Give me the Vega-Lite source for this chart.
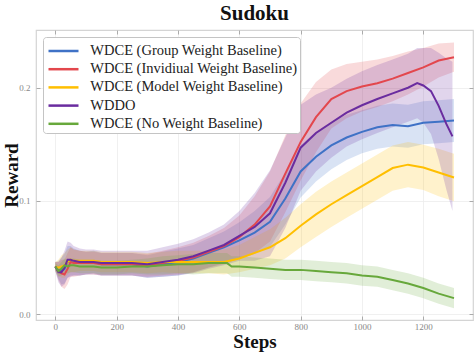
{
  "$schema": "https://vega.github.io/schema/vega-lite/v6.json",
  "width": 437,
  "height": 290,
  "autosize": {"type": "none"},
  "padding": {"left": 36, "top": 30, "right": 3, "bottom": 33},
  "background": "white",
  "title": {"text": "Sudoku", "font": "Liberation Serif", "fontSize": 21, "fontWeight": "bold", "color": "#111111", "anchor": "middle", "baseline": "alphabetic", "offset": -11.5},
  "config": {
    "view": {"stroke": "#d4d4d4", "strokeWidth": 1.2},
    "axis": {"labelFont": "Liberation Serif", "labelFontSize": 9, "labelColor": "#888888", "tickColor": "#999999", "tickSize": -4, "tickWidth": 0.8, "domain": false, "gridColor": "#ececec", "gridWidth": 0.8, "titleFont": "Liberation Serif", "titleFontSize": 19, "titleFontWeight": "bold", "titleColor": "#111111"},
    "legend": {"orient": "top-left", "offset": 7, "symbolType": "M-0.85,0H2.15", "symbolSize": 400, "symbolStrokeWidth": 2.5,
               "labelFont": "Liberation Serif", "labelFontSize": 14.5, "labelColor": "#222222", "labelOffset": 21.8, "labelLimit": 320,
               "rowPadding": 0.2, "padding": 2.5, "fillColor": "white", "strokeColor": "#c4c4c4", "cornerRadius": 3}
  },
  "data": {"values": [
    {"s":"WDCE (Group Weight Baseline)","x":0,"y":0.042,"lo":0.038,"hi":0.046},
    {"s":"WDCE (Group Weight Baseline)","x":10,"y":0.039,"lo":0.031,"hi":0.047},
    {"s":"WDCE (Group Weight Baseline)","x":20,"y":0.038,"lo":0.026,"hi":0.050},
    {"s":"WDCE (Group Weight Baseline)","x":30,"y":0.040,"lo":0.027,"hi":0.053},
    {"s":"WDCE (Group Weight Baseline)","x":40,"y":0.046,"lo":0.032,"hi":0.060},
    {"s":"WDCE (Group Weight Baseline)","x":50,"y":0.047,"lo":0.034,"hi":0.060},
    {"s":"WDCE (Group Weight Baseline)","x":60,"y":0.046,"lo":0.034,"hi":0.058},
    {"s":"WDCE (Group Weight Baseline)","x":80,"y":0.045,"lo":0.034,"hi":0.056},
    {"s":"WDCE (Group Weight Baseline)","x":100,"y":0.045,"lo":0.035,"hi":0.055},
    {"s":"WDCE (Group Weight Baseline)","x":125,"y":0.046,"lo":0.036,"hi":0.056},
    {"s":"WDCE (Group Weight Baseline)","x":150,"y":0.044,"lo":0.034,"hi":0.054},
    {"s":"WDCE (Group Weight Baseline)","x":175,"y":0.044,"lo":0.034,"hi":0.054},
    {"s":"WDCE (Group Weight Baseline)","x":200,"y":0.044,"lo":0.034,"hi":0.054},
    {"s":"WDCE (Group Weight Baseline)","x":250,"y":0.044,"lo":0.034,"hi":0.054},
    {"s":"WDCE (Group Weight Baseline)","x":300,"y":0.042,"lo":0.032,"hi":0.052},
    {"s":"WDCE (Group Weight Baseline)","x":350,"y":0.044,"lo":0.033,"hi":0.055},
    {"s":"WDCE (Group Weight Baseline)","x":400,"y":0.046,"lo":0.034,"hi":0.058},
    {"s":"WDCE (Group Weight Baseline)","x":450,"y":0.049,"lo":0.037,"hi":0.061},
    {"s":"WDCE (Group Weight Baseline)","x":500,"y":0.054,"lo":0.041,"hi":0.067},
    {"s":"WDCE (Group Weight Baseline)","x":550,"y":0.059,"lo":0.045,"hi":0.073},
    {"s":"WDCE (Group Weight Baseline)","x":600,"y":0.065,"lo":0.049,"hi":0.081},
    {"s":"WDCE (Group Weight Baseline)","x":650,"y":0.072,"lo":0.053,"hi":0.091},
    {"s":"WDCE (Group Weight Baseline)","x":700,"y":0.0815,"lo":0.0595,"hi":0.1035},
    {"s":"WDCE (Group Weight Baseline)","x":750,"y":0.102,"lo":0.079,"hi":0.125},
    {"s":"WDCE (Group Weight Baseline)","x":800,"y":0.126,"lo":0.103,"hi":0.149},
    {"s":"WDCE (Group Weight Baseline)","x":850,"y":0.139,"lo":0.117,"hi":0.161},
    {"s":"WDCE (Group Weight Baseline)","x":900,"y":0.149,"lo":0.128,"hi":0.170},
    {"s":"WDCE (Group Weight Baseline)","x":950,"y":0.156,"lo":0.136,"hi":0.176},
    {"s":"WDCE (Group Weight Baseline)","x":1000,"y":0.161,"lo":0.142,"hi":0.180},
    {"s":"WDCE (Group Weight Baseline)","x":1050,"y":0.165,"lo":0.146,"hi":0.184},
    {"s":"WDCE (Group Weight Baseline)","x":1100,"y":0.167,"lo":0.148,"hi":0.186},
    {"s":"WDCE (Group Weight Baseline)","x":1150,"y":0.166,"lo":0.147,"hi":0.185},
    {"s":"WDCE (Group Weight Baseline)","x":1200,"y":0.169,"lo":0.150,"hi":0.188},
    {"s":"WDCE (Group Weight Baseline)","x":1250,"y":0.170,"lo":0.151,"hi":0.189},
    {"s":"WDCE (Group Weight Baseline)","x":1300,"y":0.171,"lo":0.152,"hi":0.190},

    {"s":"WDCE (Invidiual Weight Baseline)","x":0,"y":0.042,"lo":0.038,"hi":0.046},
    {"s":"WDCE (Invidiual Weight Baseline)","x":10,"y":0.038,"lo":0.030,"hi":0.046},
    {"s":"WDCE (Invidiual Weight Baseline)","x":20,"y":0.036,"lo":0.024,"hi":0.048},
    {"s":"WDCE (Invidiual Weight Baseline)","x":30,"y":0.035,"lo":0.022,"hi":0.048},
    {"s":"WDCE (Invidiual Weight Baseline)","x":40,"y":0.040,"lo":0.026,"hi":0.054},
    {"s":"WDCE (Invidiual Weight Baseline)","x":50,"y":0.046,"lo":0.033,"hi":0.059},
    {"s":"WDCE (Invidiual Weight Baseline)","x":60,"y":0.045,"lo":0.033,"hi":0.057},
    {"s":"WDCE (Invidiual Weight Baseline)","x":80,"y":0.045,"lo":0.034,"hi":0.056},
    {"s":"WDCE (Invidiual Weight Baseline)","x":100,"y":0.045,"lo":0.035,"hi":0.055},
    {"s":"WDCE (Invidiual Weight Baseline)","x":125,"y":0.045,"lo":0.035,"hi":0.055},
    {"s":"WDCE (Invidiual Weight Baseline)","x":150,"y":0.044,"lo":0.034,"hi":0.054},
    {"s":"WDCE (Invidiual Weight Baseline)","x":175,"y":0.044,"lo":0.034,"hi":0.054},
    {"s":"WDCE (Invidiual Weight Baseline)","x":200,"y":0.044,"lo":0.034,"hi":0.054},
    {"s":"WDCE (Invidiual Weight Baseline)","x":250,"y":0.044,"lo":0.034,"hi":0.054},
    {"s":"WDCE (Invidiual Weight Baseline)","x":300,"y":0.043,"lo":0.033,"hi":0.053},
    {"s":"WDCE (Invidiual Weight Baseline)","x":350,"y":0.045,"lo":0.034,"hi":0.056},
    {"s":"WDCE (Invidiual Weight Baseline)","x":400,"y":0.047,"lo":0.035,"hi":0.059},
    {"s":"WDCE (Invidiual Weight Baseline)","x":450,"y":0.050,"lo":0.037,"hi":0.063},
    {"s":"WDCE (Invidiual Weight Baseline)","x":500,"y":0.055,"lo":0.041,"hi":0.069},
    {"s":"WDCE (Invidiual Weight Baseline)","x":550,"y":0.060,"lo":0.044,"hi":0.076},
    {"s":"WDCE (Invidiual Weight Baseline)","x":600,"y":0.068,"lo":0.049,"hi":0.087},
    {"s":"WDCE (Invidiual Weight Baseline)","x":650,"y":0.079,"lo":0.054,"hi":0.104},
    {"s":"WDCE (Invidiual Weight Baseline)","x":700,"y":0.095,"lo":0.064,"hi":0.126},
    {"s":"WDCE (Invidiual Weight Baseline)","x":750,"y":0.124,"lo":0.090,"hi":0.158},
    {"s":"WDCE (Invidiual Weight Baseline)","x":800,"y":0.152,"lo":0.118,"hi":0.186},
    {"s":"WDCE (Invidiual Weight Baseline)","x":850,"y":0.174,"lo":0.143,"hi":0.205},
    {"s":"WDCE (Invidiual Weight Baseline)","x":900,"y":0.190,"lo":0.164,"hi":0.216},
    {"s":"WDCE (Invidiual Weight Baseline)","x":950,"y":0.197,"lo":0.173,"hi":0.221},
    {"s":"WDCE (Invidiual Weight Baseline)","x":1000,"y":0.201,"lo":0.179,"hi":0.223},
    {"s":"WDCE (Invidiual Weight Baseline)","x":1050,"y":0.204,"lo":0.183,"hi":0.225},
    {"s":"WDCE (Invidiual Weight Baseline)","x":1100,"y":0.208,"lo":0.188,"hi":0.228},
    {"s":"WDCE (Invidiual Weight Baseline)","x":1150,"y":0.213,"lo":0.194,"hi":0.232},
    {"s":"WDCE (Invidiual Weight Baseline)","x":1200,"y":0.218,"lo":0.201,"hi":0.235},
    {"s":"WDCE (Invidiual Weight Baseline)","x":1250,"y":0.224,"lo":0.209,"hi":0.239},
    {"s":"WDCE (Invidiual Weight Baseline)","x":1300,"y":0.227,"lo":0.214,"hi":0.240},

    {"s":"WDCE (Model Weight Baseline)","x":0,"y":0.042,"lo":0.038,"hi":0.046},
    {"s":"WDCE (Model Weight Baseline)","x":10,"y":0.041,"lo":0.034,"hi":0.048},
    {"s":"WDCE (Model Weight Baseline)","x":20,"y":0.042,"lo":0.032,"hi":0.052},
    {"s":"WDCE (Model Weight Baseline)","x":30,"y":0.043,"lo":0.032,"hi":0.054},
    {"s":"WDCE (Model Weight Baseline)","x":40,"y":0.046,"lo":0.035,"hi":0.057},
    {"s":"WDCE (Model Weight Baseline)","x":50,"y":0.048,"lo":0.037,"hi":0.059},
    {"s":"WDCE (Model Weight Baseline)","x":60,"y":0.047,"lo":0.037,"hi":0.057},
    {"s":"WDCE (Model Weight Baseline)","x":80,"y":0.047,"lo":0.038,"hi":0.056},
    {"s":"WDCE (Model Weight Baseline)","x":100,"y":0.047,"lo":0.038,"hi":0.056},
    {"s":"WDCE (Model Weight Baseline)","x":125,"y":0.047,"lo":0.038,"hi":0.056},
    {"s":"WDCE (Model Weight Baseline)","x":150,"y":0.046,"lo":0.037,"hi":0.055},
    {"s":"WDCE (Model Weight Baseline)","x":175,"y":0.046,"lo":0.037,"hi":0.055},
    {"s":"WDCE (Model Weight Baseline)","x":200,"y":0.046,"lo":0.037,"hi":0.055},
    {"s":"WDCE (Model Weight Baseline)","x":250,"y":0.046,"lo":0.037,"hi":0.055},
    {"s":"WDCE (Model Weight Baseline)","x":300,"y":0.045,"lo":0.036,"hi":0.054},
    {"s":"WDCE (Model Weight Baseline)","x":350,"y":0.046,"lo":0.037,"hi":0.055},
    {"s":"WDCE (Model Weight Baseline)","x":400,"y":0.046,"lo":0.036,"hi":0.056},
    {"s":"WDCE (Model Weight Baseline)","x":450,"y":0.046,"lo":0.036,"hi":0.056},
    {"s":"WDCE (Model Weight Baseline)","x":500,"y":0.046,"lo":0.036,"hi":0.056},
    {"s":"WDCE (Model Weight Baseline)","x":550,"y":0.046,"lo":0.035,"hi":0.057},
    {"s":"WDCE (Model Weight Baseline)","x":600,"y":0.049,"lo":0.037,"hi":0.061},
    {"s":"WDCE (Model Weight Baseline)","x":650,"y":0.054,"lo":0.040,"hi":0.068},
    {"s":"WDCE (Model Weight Baseline)","x":700,"y":0.059,"lo":0.043,"hi":0.075},
    {"s":"WDCE (Model Weight Baseline)","x":750,"y":0.067,"lo":0.049,"hi":0.085},
    {"s":"WDCE (Model Weight Baseline)","x":800,"y":0.078,"lo":0.059,"hi":0.097},
    {"s":"WDCE (Model Weight Baseline)","x":850,"y":0.088,"lo":0.068,"hi":0.108},
    {"s":"WDCE (Model Weight Baseline)","x":900,"y":0.097,"lo":0.077,"hi":0.117},
    {"s":"WDCE (Model Weight Baseline)","x":950,"y":0.105,"lo":0.085,"hi":0.125},
    {"s":"WDCE (Model Weight Baseline)","x":1000,"y":0.113,"lo":0.093,"hi":0.133},
    {"s":"WDCE (Model Weight Baseline)","x":1050,"y":0.121,"lo":0.101,"hi":0.141},
    {"s":"WDCE (Model Weight Baseline)","x":1100,"y":0.129,"lo":0.109,"hi":0.149},
    {"s":"WDCE (Model Weight Baseline)","x":1150,"y":0.132,"lo":0.112,"hi":0.152},
    {"s":"WDCE (Model Weight Baseline)","x":1200,"y":0.1295,"lo":0.1095,"hi":0.1495},
    {"s":"WDCE (Model Weight Baseline)","x":1250,"y":0.125,"lo":0.104,"hi":0.146},
    {"s":"WDCE (Model Weight Baseline)","x":1300,"y":0.1206,"lo":0.0996,"hi":0.1416},

    {"s":"WDDO","x":0,"y":0.042,"lo":0.038,"hi":0.046},
    {"s":"WDDO","x":10,"y":0.037,"lo":0.028,"hi":0.046},
    {"s":"WDDO","x":20,"y":0.037,"lo":0.024,"hi":0.050},
    {"s":"WDDO","x":30,"y":0.041,"lo":0.026,"hi":0.056},
    {"s":"WDDO","x":40,"y":0.048,"lo":0.032,"hi":0.064},
    {"s":"WDDO","x":50,"y":0.048,"lo":0.033,"hi":0.063},
    {"s":"WDDO","x":60,"y":0.047,"lo":0.034,"hi":0.060},
    {"s":"WDDO","x":80,"y":0.046,"lo":0.034,"hi":0.058},
    {"s":"WDDO","x":100,"y":0.046,"lo":0.035,"hi":0.057},
    {"s":"WDDO","x":125,"y":0.046,"lo":0.035,"hi":0.057},
    {"s":"WDDO","x":150,"y":0.045,"lo":0.034,"hi":0.056},
    {"s":"WDDO","x":175,"y":0.045,"lo":0.034,"hi":0.056},
    {"s":"WDDO","x":200,"y":0.045,"lo":0.034,"hi":0.056},
    {"s":"WDDO","x":250,"y":0.045,"lo":0.034,"hi":0.056},
    {"s":"WDDO","x":300,"y":0.044,"lo":0.032,"hi":0.056},
    {"s":"WDDO","x":350,"y":0.046,"lo":0.033,"hi":0.059},
    {"s":"WDDO","x":400,"y":0.048,"lo":0.034,"hi":0.062},
    {"s":"WDDO","x":450,"y":0.051,"lo":0.036,"hi":0.066},
    {"s":"WDDO","x":500,"y":0.056,"lo":0.040,"hi":0.072},
    {"s":"WDDO","x":550,"y":0.061,"lo":0.043,"hi":0.079},
    {"s":"WDDO","x":600,"y":0.069,"lo":0.047,"hi":0.091},
    {"s":"WDDO","x":650,"y":0.077,"lo":0.047,"hi":0.107},
    {"s":"WDDO","x":700,"y":0.089,"lo":0.051,"hi":0.127},
    {"s":"WDDO","x":750,"y":0.116,"lo":0.076,"hi":0.156},
    {"s":"WDDO","x":800,"y":0.147,"lo":0.109,"hi":0.185},
    {"s":"WDDO","x":850,"y":0.160,"lo":0.126,"hi":0.194},
    {"s":"WDDO","x":900,"y":0.169,"lo":0.138,"hi":0.200},
    {"s":"WDDO","x":950,"y":0.178,"lo":0.148,"hi":0.208},
    {"s":"WDDO","x":1000,"y":0.1845,"lo":0.1545,"hi":0.2145},
    {"s":"WDDO","x":1050,"y":0.190,"lo":0.160,"hi":0.220},
    {"s":"WDDO","x":1100,"y":0.195,"lo":0.165,"hi":0.225},
    {"s":"WDDO","x":1150,"y":0.200,"lo":0.170,"hi":0.230},
    {"s":"WDDO","x":1180,"y":0.204,"lo":0.173,"hi":0.235},
    {"s":"WDDO","x":1200,"y":0.202,"lo":0.169,"hi":0.235},
    {"s":"WDDO","x":1225,"y":0.197,"lo":0.159,"hi":0.235},
    {"s":"WDDO","x":1250,"y":0.184,"lo":0.137,"hi":0.231},
    {"s":"WDDO","x":1275,"y":0.168,"lo":0.110,"hi":0.226},
    {"s":"WDDO","x":1295,"y":0.157,"lo":0.091,"hi":0.223},

    {"s":"WDCE (No Weight Baseline)","x":0,"y":0.042,"lo":0.039,"hi":0.045},
    {"s":"WDCE (No Weight Baseline)","x":10,"y":0.038,"lo":0.033,"hi":0.043},
    {"s":"WDCE (No Weight Baseline)","x":20,"y":0.040,"lo":0.034,"hi":0.046},
    {"s":"WDCE (No Weight Baseline)","x":30,"y":0.043,"lo":0.037,"hi":0.049},
    {"s":"WDCE (No Weight Baseline)","x":40,"y":0.042,"lo":0.036,"hi":0.048},
    {"s":"WDCE (No Weight Baseline)","x":50,"y":0.043,"lo":0.037,"hi":0.049},
    {"s":"WDCE (No Weight Baseline)","x":60,"y":0.043,"lo":0.037,"hi":0.049},
    {"s":"WDCE (No Weight Baseline)","x":80,"y":0.042,"lo":0.036,"hi":0.048},
    {"s":"WDCE (No Weight Baseline)","x":100,"y":0.042,"lo":0.036,"hi":0.048},
    {"s":"WDCE (No Weight Baseline)","x":125,"y":0.042,"lo":0.036,"hi":0.048},
    {"s":"WDCE (No Weight Baseline)","x":150,"y":0.041,"lo":0.035,"hi":0.047},
    {"s":"WDCE (No Weight Baseline)","x":175,"y":0.041,"lo":0.035,"hi":0.047},
    {"s":"WDCE (No Weight Baseline)","x":200,"y":0.041,"lo":0.035,"hi":0.047},
    {"s":"WDCE (No Weight Baseline)","x":250,"y":0.042,"lo":0.036,"hi":0.048},
    {"s":"WDCE (No Weight Baseline)","x":300,"y":0.042,"lo":0.035,"hi":0.049},
    {"s":"WDCE (No Weight Baseline)","x":350,"y":0.043,"lo":0.035,"hi":0.051},
    {"s":"WDCE (No Weight Baseline)","x":400,"y":0.044,"lo":0.036,"hi":0.052},
    {"s":"WDCE (No Weight Baseline)","x":450,"y":0.044,"lo":0.035,"hi":0.053},
    {"s":"WDCE (No Weight Baseline)","x":500,"y":0.045,"lo":0.036,"hi":0.054},
    {"s":"WDCE (No Weight Baseline)","x":550,"y":0.045,"lo":0.036,"hi":0.054},
    {"s":"WDCE (No Weight Baseline)","x":560,"y":0.045,"lo":0.036,"hi":0.054},
    {"s":"WDCE (No Weight Baseline)","x":575,"y":0.042,"lo":0.033,"hi":0.051},
    {"s":"WDCE (No Weight Baseline)","x":600,"y":0.042,"lo":0.033,"hi":0.051},
    {"s":"WDCE (No Weight Baseline)","x":650,"y":0.041,"lo":0.032,"hi":0.050},
    {"s":"WDCE (No Weight Baseline)","x":700,"y":0.040,"lo":0.031,"hi":0.049},
    {"s":"WDCE (No Weight Baseline)","x":750,"y":0.039,"lo":0.030,"hi":0.048},
    {"s":"WDCE (No Weight Baseline)","x":800,"y":0.039,"lo":0.030,"hi":0.048},
    {"s":"WDCE (No Weight Baseline)","x":850,"y":0.038,"lo":0.029,"hi":0.047},
    {"s":"WDCE (No Weight Baseline)","x":900,"y":0.037,"lo":0.028,"hi":0.046},
    {"s":"WDCE (No Weight Baseline)","x":950,"y":0.036,"lo":0.027,"hi":0.045},
    {"s":"WDCE (No Weight Baseline)","x":1000,"y":0.034,"lo":0.025,"hi":0.043},
    {"s":"WDCE (No Weight Baseline)","x":1050,"y":0.033,"lo":0.024,"hi":0.042},
    {"s":"WDCE (No Weight Baseline)","x":1100,"y":0.030,"lo":0.021,"hi":0.039},
    {"s":"WDCE (No Weight Baseline)","x":1150,"y":0.027,"lo":0.018,"hi":0.036},
    {"s":"WDCE (No Weight Baseline)","x":1200,"y":0.023,"lo":0.014,"hi":0.032},
    {"s":"WDCE (No Weight Baseline)","x":1250,"y":0.018,"lo":0.009,"hi":0.027},
    {"s":"WDCE (No Weight Baseline)","x":1300,"y":0.014,"lo":0.005,"hi":0.023}
  ]},
  "layer": [
    {
      "mark": {"type": "area", "fillOpacity": 0.2, "interpolate": "linear"},
      "encoding": {
        "x": {"field": "x", "type": "quantitative", "scale": {"domain": [-63, 1362], "nice": false, "zero": false},
              "axis": {"orient": "top", "labels": false, "grid": false, "title": null, "values": [0, 200, 400, 600, 800, 1000, 1200]}},
        "y": {"field": "lo", "type": "quantitative", "scale": {"domain": [-0.0053, 0.251], "nice": false, "zero": false},
              "axis": {"orient": "right", "labels": false, "grid": false, "title": null, "values": [0, 0.1, 0.2]}},
        "y2": {"field": "hi"},
        "color": {"field": "s", "type": "nominal",
                 "scale": {"domain": ["WDCE (Group Weight Baseline)", "WDCE (Invidiual Weight Baseline)", "WDCE (Model Weight Baseline)", "WDDO", "WDCE (No Weight Baseline)"],
                           "range": ["#3F72C6", "#E3474D", "#FFBF00", "#6A2C9F", "#67A83B"]},
                 "legend": {"title": null}}
      }
    },
    {
      "mark": {"type": "line", "strokeWidth": 2, "interpolate": "linear"},
      "encoding": {
        "x": {"field": "x", "type": "quantitative", "scale": {"domain": [-63, 1362], "nice": false, "zero": false},
              "axis": {"orient": "bottom", "title": "Steps", "grid": true, "values": [0, 200, 400, 600, 800, 1000, 1200], "format": "d", "labelPadding": 6, "titlePadding": 1}},
        "y": {"field": "y", "type": "quantitative", "scale": {"domain": [-0.0053, 0.251], "nice": false, "zero": false},
              "axis": {"orient": "left", "title": "Reward", "grid": true, "values": [0, 0.1, 0.2], "format": ".1f", "labelPadding": 10, "titlePadding": -3}},
        "color": {"field": "s", "type": "nominal", "legend": {"title": null}}
      }
    }
  ],
  "resolve": {"axis": {"x": "independent", "y": "independent"}}
}
